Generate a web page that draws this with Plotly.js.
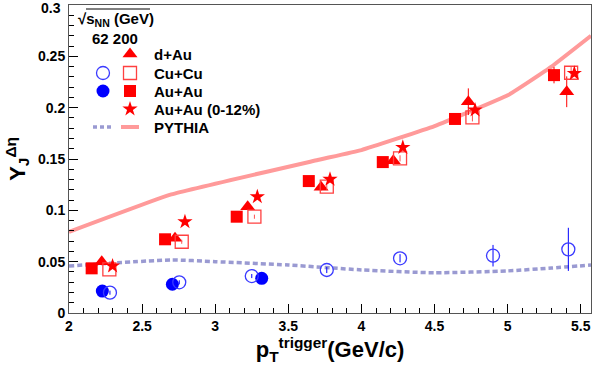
<!DOCTYPE html>
<html><head><meta charset="utf-8">
<script src="https://cdn.plot.ly/plotly-3.0.1.min.js"></script>
<style>body{margin:0}#c{width:600px;height:375px}</style>
</head><body><div id="c"></div>
<script>
// Data
const dAu_x = [2.224, 2.725, 3.222, 3.724, 4.218, 4.731, 5.404];
const dAu_y = [0.050, 0.0727, 0.1035, 0.1224, 0.1483, 0.2058, 0.2155];
const dAu_e = [0.003, 0.003, 0.003, 0.003, 0.004, 0.013, 0.015];

const CuCu200_x = [2.276, 2.771, 3.268, 3.763, 4.264, 4.759, 5.434];
const CuCu200_y = [0.0425, 0.0694, 0.0938, 0.1231, 0.1506, 0.1906, 0.234];
const CuCu200_e = [0.002, 0.002, 0.002, 0.003, 0.003, 0.004, 0.006];

const AuAu200_x = [2.155, 2.657, 3.147, 3.64, 4.146, 4.64, 5.317];
const AuAu200_y = [0.0435, 0.0718, 0.0938, 0.1285, 0.147, 0.189, 0.2317];
const AuAu200_e = [0.002, 0.002, 0.002, 0.003, 0.003, 0.004, 0.008];

const AuAuC_x = [2.298, 2.793, 3.288, 3.785, 4.283, 4.777, 5.456];
const AuAuC_y = [0.0458, 0.0889, 0.1133, 0.1302, 0.1613, 0.1977, 0.2334];

const AuAu62_x = [2.228, 2.707, 3.318];
const AuAu62_y = [0.0214, 0.028, 0.0338];

const CuCu62_x = [2.28, 2.754, 3.25, 3.763, 4.264, 4.9, 5.415];
const CuCu62_y = [0.0198, 0.0299, 0.036, 0.0419, 0.0533, 0.0558, 0.062];
const CuCu62_e = [0.002, 0.002, 0.002, 0.003, 0.004, 0.0105, 0.021];

const py200_x = [2.0, 2.7, 3.7, 4.0, 4.5, 5.0, 5.3, 5.57];
const py200_y = [0.079, 0.1155, 0.149, 0.1587, 0.182, 0.212, 0.24, 0.27];

const py62_x = [2.0, 2.7, 3.0, 3.5, 4.0, 4.5, 5.0, 5.3, 5.57];
const py62_y = [0.0458, 0.0516, 0.050, 0.0467, 0.042, 0.0392, 0.041, 0.0438, 0.0467];

const yTickVals = [0, 0.05, 0.1, 0.15, 0.2, 0.25, 0.3];
const yTickText = ['0', '0.05', '0.1', '0.15', '0.2', '0.25', '0.3'];
const legendLabels = ['d+Au', 'Cu+Cu', 'Au+Au', 'Au+Au (0-12%)', 'PYTHIA'];

const RED = '#ff0000', BLUE = '#0000ff', LRED = '#ff9a9a', LBLUE = '#9a9ad2';
const F = 'Liberation Sans, Arial, sans-serif';

function eb(arr, col){ return {type:'data', array:arr, visible:true, color:col, thickness:1, width:0}; }

const traces = [
  {x:py62_x, y:py62_y, mode:'lines', line:{color:LBLUE, width:3.5, dash:'5px,3px', shape:'spline', smoothing:0.6}, hoverinfo:'skip'},
  {x:py200_x, y:py200_y, mode:'lines', line:{color:LRED, width:4, shape:'spline', smoothing:0.3}, hoverinfo:'skip'},
  {x:AuAu62_x, y:AuAu62_y, mode:'markers', marker:{symbol:'circle', size:13, color:BLUE}},
  {x:CuCu62_x, y:CuCu62_y, mode:'markers', error_y:eb(CuCu62_e, BLUE), marker:{symbol:'circle-open', size:13, color:'#3a3aff', line:{width:1.3}}},
  {x:AuAu200_x, y:AuAu200_y, mode:'markers', error_y:eb(AuAu200_e, RED), marker:{symbol:'square', size:12, color:RED}},
  {x:dAu_x, y:dAu_y, mode:'markers', error_y:eb(dAu_e, RED), marker:{symbol:'triangle-up', size:13, color:RED}},
  {x:CuCu200_x, y:CuCu200_y, mode:'markers', error_y:eb(CuCu200_e, '#ff5050'), marker:{symbol:'square-open', size:13, color:'#ff4040', line:{width:1.3}}},
  {x:AuAuC_x, y:AuAuC_y, mode:'markers', marker:{symbol:'star', size:11.5, color:RED, line:{width:0}}},
];

// Legend drawn on an overlay axis whose units equal pixels of the plot area
const L = {c62:103, c200:130, txt:152, rows:[54, 73, 91, 109, 127]};
traces.push(
  {x:[L.c200], y:[L.rows[0]], xaxis:'x2', yaxis:'y2', mode:'markers', marker:{symbol:'triangle-up', size:13, color:RED}},
  {x:[L.c62], y:[L.rows[1]], xaxis:'x2', yaxis:'y2', mode:'markers', marker:{symbol:'circle-open', size:13, color:'#3a3aff', line:{width:1.3}}},
  {x:[L.c200], y:[L.rows[1]], xaxis:'x2', yaxis:'y2', mode:'markers', marker:{symbol:'square-open', size:13, color:'#ff4040', line:{width:1.3}}},
  {x:[L.c62], y:[L.rows[2]], xaxis:'x2', yaxis:'y2', mode:'markers', marker:{symbol:'circle', size:13, color:BLUE}},
  {x:[L.c200], y:[L.rows[2]], xaxis:'x2', yaxis:'y2', mode:'markers', marker:{symbol:'square', size:12, color:RED}},
  {x:[L.c200], y:[L.rows[3]], xaxis:'x2', yaxis:'y2', mode:'markers', marker:{symbol:'star', size:11.5, color:RED}},
  {x:[93, 113], y:[L.rows[4], L.rows[4]], xaxis:'x2', yaxis:'y2', mode:'lines', line:{color:LBLUE, width:3.5, dash:'4px,3px'}},
  {x:[121, 139], y:[L.rows[4], L.rows[4]], xaxis:'x2', yaxis:'y2', mode:'lines', line:{color:LRED, width:4}}
);

const ann = legendLabels.map((t,i)=>({x:L.txt, y:L.rows[i], xref:'x2', yref:'y2', text:t, showarrow:false, xanchor:'left', yanchor:'middle', font:{family:F, size:15, color:'#000', weight:'bold'}}));
ann.push({x:76, y:19, xref:'x2', yref:'y2', text:'√s<sub>NN</sub> (GeV)', showarrow:false, xanchor:'left', yanchor:'middle', font:{family:F, size:15, color:'#000', weight:'bold'}});
ann.push({x:90, y:38, xref:'x2', yref:'y2', text:'62 200', showarrow:false, xanchor:'left', yanchor:'middle', font:{family:F, size:15, color:'#000', weight:'bold'}});
// top y tick label, placed slightly below the frame so it is not cut at the page edge
ann.push({x:0, xref:'paper', xshift:-6, y:yTickVals[6], yref:'y', yshift:-3, text:yTickText[6], showarrow:false, xanchor:'right', yanchor:'middle', font:{family:F, size:14, color:'#000', weight:'bold'}});

const tickFont = {family:F, size:14, color:'#000', weight:'bold'};
const layout = {
  width:600, height:375, margin:{l:69, r:9, t:5, b:62},
  paper_bgcolor:'#fff', plot_bgcolor:'#fff', showlegend:false,
  xaxis:{range:[2, 5.57], tick0:2, dtick:0.5, ticks:'inside', ticklen:9, tickcolor:'#000', showgrid:false, zeroline:false,
    showline:true, linecolor:'#555', linewidth:1, mirror:true, tickfont:tickFont, ticklabeloverflow:'allow',
    minor:{dtick:0.1, ticks:'inside', ticklen:5, tickcolor:'#000'},
    title:{text:'p<sub>T</sub><sup>trigger</sup>(GeV/c)', font:{family:F, size:22, color:'#000', weight:'bold'}, standoff:2}},
  yaxis:{range:[0, 0.3], ticks:'inside', ticklen:9, tickcolor:'#000', showgrid:false, zeroline:false,
    showline:true, linecolor:'#555', linewidth:1, mirror:true, tickfont:tickFont, ticklabeloverflow:'allow',
    tickvals:yTickVals, ticktext:yTickText.slice(0,6).concat(['']),
    minor:{tickvals:[0.01,0.02,0.03,0.04,0.06,0.07,0.08,0.09,0.11,0.12,0.13,0.14,0.16,0.17,0.18,0.19,0.21,0.22,0.23,0.24,0.26,0.27,0.28,0.29], ticks:'inside', ticklen:5, tickcolor:'#000'},
    title:{text:'Y<sub>J</sub><sup>Δη</sup>', font:{family:F, size:22, color:'#000', weight:'bold'}, standoff:6}},
  xaxis2:{overlaying:'x', anchor:'y2', range:[69, 591], visible:false, fixedrange:true},
  yaxis2:{overlaying:'y', anchor:'x2', range:[313, 5], visible:false, fixedrange:true},
  annotations:ann,
  shapes:[{type:'line', xref:'x2', yref:'y2', x0:86, x1:150, y0:9, y1:9, line:{color:'#000', width:1}}]
};
Plotly.newPlot('c', traces, layout, {displayModeBar:false, staticPlot:true});
</script></body></html>
